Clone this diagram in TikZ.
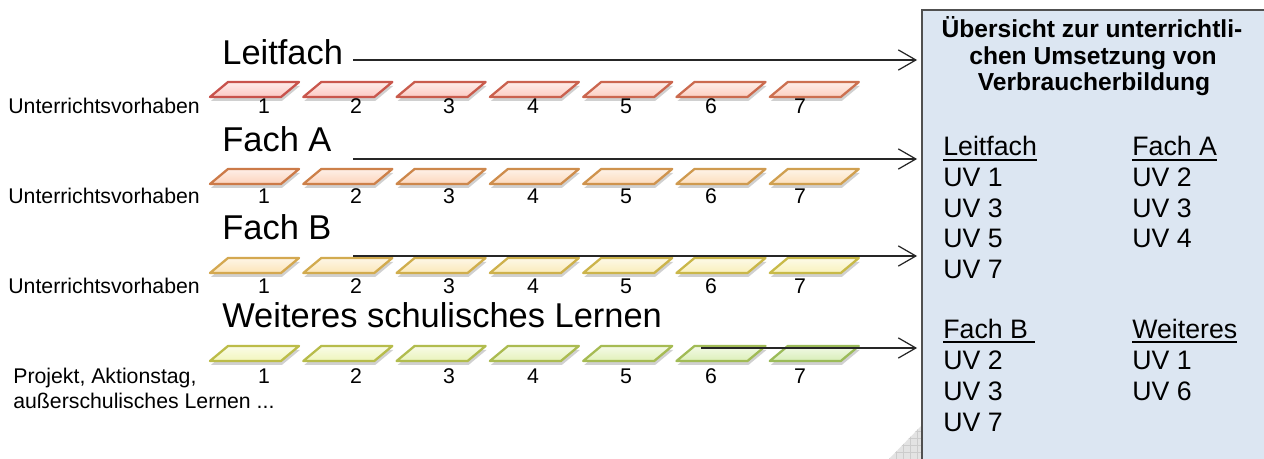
\documentclass[tikz,border=0pt]{standalone}
\usepackage{fontspec}
\setmainfont{Liberation Sans}
\usetikzlibrary{arrows.meta,shadows}
\definecolor{boxfill}{HTML}{DCE6F2}
\definecolor{boxline}{HTML}{505050}
\definecolor{bA1}{HTML}{C8524C}\definecolor{bB1}{HTML}{CC7050}
\definecolor{bA2}{HTML}{CC7A48}\definecolor{bB2}{HTML}{D0A050}
\definecolor{bA3}{HTML}{D4A850}\definecolor{bB3}{HTML}{C8BA48}
\definecolor{bA4}{HTML}{BCBC48}\definecolor{bB4}{HTML}{9BBB59}
\definecolor{fA1}{HTML}{FCC8C4}\definecolor{fB1}{HTML}{FCD0C0}
\definecolor{fA2}{HTML}{FCD2BC}\definecolor{fB2}{HTML}{FCE0BC}
\definecolor{fA3}{HTML}{FCE4B8}\definecolor{fB3}{HTML}{F8F2BC}
\definecolor{fA4}{HTML}{F2F6BC}\definecolor{fB4}{HTML}{D8EEB8}
\newcommand\myul[1]{\setbox0=\hbox{#1}\rlap{\rule[-2.6pt]{\wd0}{1.1pt}}\box0}
\tikzset{
  para/.style={line width=1.3pt, line join=round,
    drop shadow={shadow xshift=0.6pt, shadow yshift=-2.2pt, opacity=0.3, fill=black!60}},
  num/.style={anchor=base, inner sep=0pt, font=\fontsize{12.1pt}{14pt}\selectfont},
  small/.style={anchor=base west, inner sep=0pt, font=\fontsize{12.1pt}{14pt}\selectfont},
  big/.style={anchor=base west, inner sep=0pt, font=\fontsize{19.6pt}{23pt}\selectfont},
  title/.style={anchor=base, inner sep=0pt, font=\fontsize{14pt}{16pt}\bfseries\selectfont},
  col/.style={anchor=base west, inner sep=0pt, font=\fontsize{15.2pt}{18pt}\selectfont},
  arr/.style={black!85, line width=0.7pt, shorten >=2.8pt,
    -{Straight Barb[length=10pt,width=11.5pt,line width=0.7pt]}},
}
\begin{document}
\begin{tikzpicture}[x=0.02cm, y=-0.02cm]
\useasboundingbox (0,0) rectangle (1264,459);
\fill[white] (-10,-10) rectangle (1280,470);
% page curl
\begin{scope}
  \clip (889,459) -- (922,425) -- (922,459) -- cycle;
  \fill[gray!22] (880,420) rectangle (925,460);
  \foreach \g in {0,...,6}{
    \draw[gray!40, line width=0.4pt] (882+\g*7,420) -- (882+\g*7,460);
    \draw[gray!40, line width=0.4pt] (880,424+\g*7) -- (925,424+\g*7);
  }
\end{scope}
% overview box (runs past the right and bottom edges)
\coordinate (boxnw) at (922,10);
\coordinate (boxse) at (1285,475);
\fill[boxfill] (boxnw) rectangle (boxse);
\draw[boxline, line width=1.2pt] (boxnw |- boxse) -- (boxnw) -- (boxnw -| boxse);
% rows of parallelograms
\foreach \r/\yt/\yn in {1/82/114, 2/169/204, 3/258/294, 4/346/383}{
  \foreach \i/\nx in {1/264,2/356,3/449,4/533,5/626,6/711,7/800}{
    \pgfmathtruncatemacro\p{(\i-1)/6*100}
    \colorlet{bc}{bB\r!\p!bA\r}
    \colorlet{fc}{fB\r!\p!fA\r}
    \pgfmathsetmacro\xl{210+(\i-1)*93.3}
    \draw[para, draw=bc, top color=fc!35!white, bottom color=fc]
      (\xl,\yt+15) -- (\xl+18,\yt) -- (\xl+89,\yt) -- (\xl+71,\yt+15) -- cycle;
    \node[num] (n\r\i) at (\nx,\yn) {\i};
  }
}
% row labels
\node[big] (l1) at (222,65) {Leitfach};
\node[big] (l2) at (222,152) {Fach A};
\node[big] (l3) at (222,239) {Fach B};
\node[big] (l4) at (222,327) {Weiteres schulisches Lernen};
\node[small] (u1) at (8,114) {Unterrichtsvorhaben};
\node[small] (u2) at (8,204) {Unterrichtsvorhaben};
\node[small] (u3) at (8,294) {Unterrichtsvorhaben};
\node[small] (p1) at (13,383) {Projekt, Aktionstag,};
\node[small] (p2) at (13,408) {außerschulisches Lernen ...};
% arrows
\coordinate (a1) at (353,60);
\coordinate (a2) at (353,159);
\coordinate (a3) at (353,256);
\coordinate (a4) at (701,348);
\foreach \k in {1,...,4}{
  \draw[arr] (a\k) -- (a\k -| boxnw);
}
% box text
\node[title] (t1) at (1092,38) {Übersicht zur unterrichtli-};
\node[title] (t2) at (1093,64.5) {chen Umsetzung von};
\node[title] (t3) at (1094,91) {Verbraucherbildung};
\node[col] (c11) at (943,156) {\myul{Leitfach}};
\node[col] (c12) at (943,186.5) {UV 1};
\node[col] (c13) at (943,217) {UV 3};
\node[col] (c14) at (943,247.5) {UV 5};
\node[col] (c15) at (943,278) {UV 7};
\node[col] (c21) at (1132,156) {\myul{Fach A}};
\node[col] (c22) at (1132,186.5) {UV 2};
\node[col] (c23) at (1132,217) {UV 3};
\node[col] (c24) at (1132,247.5) {UV 4};
\node[col] (c31) at (943,338) {\myul{Fach B\ }};
\node[col] (c32) at (943,369) {UV 2};
\node[col] (c33) at (943,400) {UV 3};
\node[col] (c34) at (943,431) {UV 7};
\node[col] (c41) at (1132,338) {\myul{Weiteres}};
\node[col] (c42) at (1132,369) {UV 1};
\node[col] (c43) at (1132,400) {UV 6};
\end{tikzpicture}
\end{document}
